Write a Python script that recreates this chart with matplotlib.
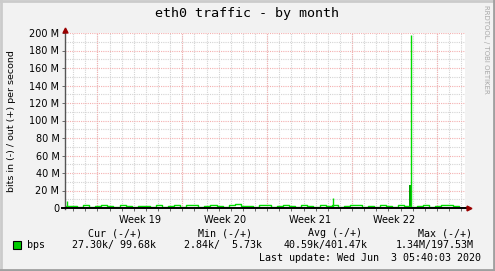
import numpy as np
import matplotlib.pyplot as plt
from matplotlib.patches import Rectangle

W, H = 495, 271

title = 'eth0 traffic - by month'
ylabel = 'bits in (-) / out (+) per second'
week_labels = ['Week 19', 'Week 20', 'Week 21', 'Week 22']
week_lines = [2.68, 9.68, 16.68, 23.68, 30.68]   # days from left edge of graph
span_days = 33.0
y_ticks = [0, 20, 40, 60, 80, 100, 120, 140, 160, 180, 200]   # Mbit/s

# out traffic in Mbit/s, one value per half day
out_half_day = [2.5, 2.0, 1.0, 3.0, 1.0, 2.5, 3.5, 2.5, 1.0, 3.5, 2.5, 1.0,
                2.5, 2.5, 1.0, 3.0, 1.0, 2.5, 3.5, 1.0, 4.0, 3.0, 1.0, 2.5,
                3.5, 2.5, 1.0, 3.0, 4.5, 2.5, 2.5, 1.0, 3.5, 3.0, 1.0, 2.5,
                4.0, 2.5, 1.0, 3.0, 2.5, 1.0, 3.5, 2.5, 3.0, 1.0, 2.5, 3.5,
                3.0, 1.0, 2.5, 1.0, 3.0, 2.5, 1.0, 3.5, 2.5, 1.0, 2.5, 3.0,
                1.0, 2.5, 3.5, 3.0, 2.5, 1.0]
# short spikes (day, Mbit/s)
spike_days = [0.2, 22.1, 28.55]
spike_vals = [8.0, 12.0, 197.5]
# in traffic burst
in_days = [28.40, 28.56]
in_vals = [26.0, 26.0]

legend_head = ['Cur (-/+)', 'Min (-/+)', 'Avg (-/+)', 'Max (-/+)']
legend_vals = ['27.30k/ 99.68k', '2.84k/  5.73k', '40.59k/401.47k', '1.34M/197.53M']
last_update = 'Last update: Wed Jun  3 05:40:03 2020'


def fx(px):
    return px / W


def fy(py):
    return 1 - py / H


fig = plt.figure(figsize=(W / 100, H / 100), dpi=100)
fig.patch.set_facecolor('#F2F2F2')

# bevelled frame: light top/left, darker bottom/right
fig.add_artist(plt.Line2D([0, 1], [1 - 1 / H, 1 - 1 / H], transform=fig.transFigure, color='#CBCBCB', lw=2))
fig.add_artist(plt.Line2D([1 / W, 1 / W], [0, 1], transform=fig.transFigure, color='#CBCBCB', lw=2))
fig.add_artist(plt.Line2D([0, 1], [1 / H, 1 / H], transform=fig.transFigure, color='#A0A0A0', lw=2))
fig.add_artist(plt.Line2D([1 - 1 / W, 1 - 1 / W], [0, 1], transform=fig.transFigure, color='#A0A0A0', lw=2))

ax = fig.add_axes([fx(65), fy(208), 400 / W, 175 / H])
ax.set_facecolor('white')
ax.set_xlim(0, span_days)
ax.set_ylim(0, 200)

dot = (0, (1, 1))
# minor grid
for d in np.arange(week_lines[0] % 1, span_days, 1.0):
    ax.axvline(d, color='#D4D4D4', lw=0.8, ls=dot, zorder=1)
for v in range(10, 201, 20):
    ax.axhline(v, color='#D4D4D4', lw=0.8, ls=dot, zorder=1)
# major grid
for d in week_lines:
    ax.axvline(d, color='#F4B0B0', lw=0.8, ls=dot, zorder=1)
for v in y_ticks[1:]:
    ax.axhline(v, color='#F4B0B0', lw=0.8, ls=dot, zorder=1)

# data
xs = np.arange(len(out_half_day)) * 0.5
ax.step(xs, out_half_day, where='post', color='#00DD00', lw=1, zorder=3)
ax.vlines(spike_days, 0, spike_vals, color='#00DD00', lw=1, zorder=3)
ax.fill_between(in_days, 0, in_vals, color='#00A000', lw=0, zorder=2)

for s in ax.spines.values():
    s.set_visible(False)

# axes lines with arrows
ax.plot([0, 0], [-1.5, 202.5], color='#555555', lw=1, clip_on=False, zorder=4)
ax.plot([-0.25, span_days + 0.2], [0, 0], color='black', lw=1.4, clip_on=False, zorder=4)
ax.plot(0, 203.5, marker='^', color='#990000', ms=3.5, clip_on=False, zorder=5)
ax.plot(span_days + 0.35, 0, marker='>', color='#990000', ms=3.5, clip_on=False, zorder=5)

ax.set_yticks(y_ticks)
ax.set_yticklabels([f'{v} M' if v else '0' for v in y_ticks])
ax.set_xticks(np.arange(week_lines[0] % 1, span_days, 1.0), minor=True)
ax.set_xticks([(a + b) / 2 for a, b in zip(week_lines[:-1], week_lines[1:])])
ax.set_xticklabels(week_labels)
ax.tick_params(axis='both', which='both', length=2, width=0.6, color='#555555',
               labelsize=7, pad=2)
ax.tick_params(axis='x', which='major', length=0, pad=5)

fig.text(fx(247), fy(14), title, family='DejaVu Sans Mono', fontsize=9.6,
         ha='center', va='center')
fig.text(fx(12), fy(121), ylabel, fontsize=6.8, rotation=90, ha='center', va='center')
fig.text(fx(486), fy(5), 'RRDTOOL / TOBI OETIKER', fontsize=5, color='#A8A8A8',
         rotation=270, ha='center', va='top')

# legend
fig.patches.append(Rectangle((fx(13), fy(249)), 8 / W, 8 / H, transform=fig.transFigure,
                             facecolor='#00CC00', edgecolor='black', lw=0.8))
fig.text(fx(27), fy(245), 'bps', family='DejaVu Sans Mono', fontsize=7.2, va='center')
head_cx = [115, 225, 335, 445]
val_right = [156, 262, 368, 474]
for cx, txt in zip(head_cx, legend_head):
    fig.text(fx(cx), fy(233), txt, family='DejaVu Sans Mono', fontsize=7.2,
             ha='center', va='center')
for rx, txt in zip(val_right, legend_vals):
    fig.text(fx(rx), fy(245), txt, family='DejaVu Sans Mono', fontsize=7.2,
             ha='right', va='center')
fig.text(fx(481), fy(258), last_update, family='DejaVu Sans Mono', fontsize=7.2,
         ha='right', va='center')

plt.savefig('out.png', dpi=100, facecolor=fig.get_facecolor())
